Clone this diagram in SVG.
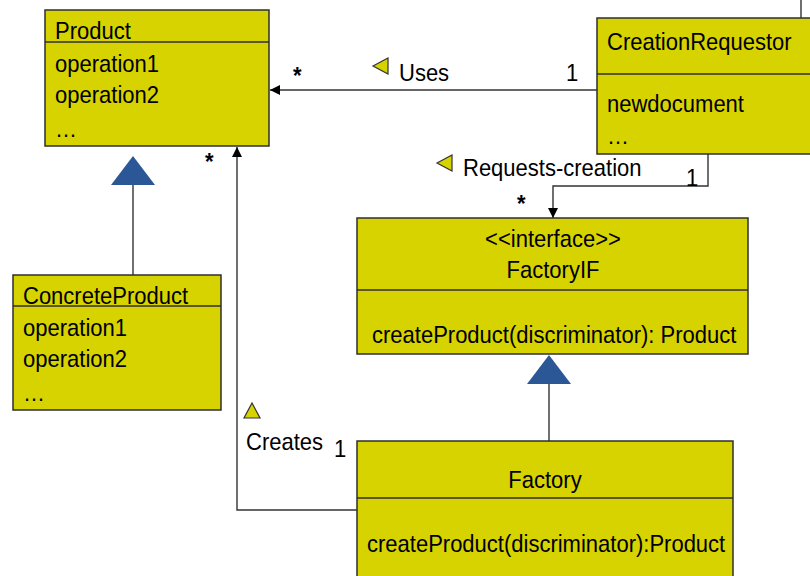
<svg xmlns="http://www.w3.org/2000/svg" width="810" height="576" viewBox="0 0 810 576">
  <defs>
    <style>
      .box { fill: #D6D300; stroke: #2f2f2f; stroke-width: 1.5; }
      .div { stroke: #2f2f2f; stroke-width: 1.5; }
      .t { font-family: "Liberation Sans", Arial, sans-serif; font-size: 24px; fill: #000; }
      .c { text-anchor: middle; }
      .star { font-family: "Liberation Sans", Arial, sans-serif; font-size: 24px; font-weight: bold; fill: #000; }
      .line { fill: none; stroke: #333; stroke-width: 1.4; }
      .gen { fill: #2B5797; }
      .dir { fill: #D6D300; stroke: #333; stroke-width: 1.2; }
    </style>
    <marker id="arrow" viewBox="0 0 10 10" refX="10" refY="5" markerWidth="10" markerHeight="10" markerUnits="userSpaceOnUse" orient="auto">
      <path d="M0,0 L10,5 L0,10 Z" fill="#000"/>
    </marker>
  </defs>

  <!-- connectors -->
  <g id="connectors">
    <!-- off-page link from CreationRequestor -->
    <line class="line" x1="801" y1="0" x2="801" y2="18"/>
    <!-- Uses -->
    <line class="line" x1="597" y1="90" x2="270" y2="90" marker-end="url(#arrow)"/>
    <text class="star" transform="translate(293 84) scale(0.917 1)">*</text>
    <polygon class="dir" points="373,66 388,58 388,74"/>
    <text class="t" transform="translate(399 81) scale(0.917 1)">Uses</text>
    <text class="t" transform="translate(566 81) scale(0.917 1)">1</text>
    <!-- Requests-creation -->
    <polyline class="line" points="708,154 708,186 553,186 553,218" marker-end="url(#arrow)"/>
    <polygon class="dir" points="437,163 452,155 452,171"/>
    <text class="t" transform="translate(463 176) scale(0.917 1)">Requests-creation</text>
    <text class="t" transform="translate(686 186) scale(0.917 1)">1</text>
    <text class="star" transform="translate(517 212) scale(0.917 1)">*</text>
    <!-- Creates -->
    <polyline class="line" points="357,510 237,510 237,147" marker-end="url(#arrow)" stroke="#555" stroke-width="2"/>
    <text class="star" transform="translate(205 170) scale(0.917 1)">*</text>
    <polygon class="dir" points="252,403 260,418 244,418"/>
    <text class="t" transform="translate(246 450) scale(0.917 1)">Creates</text>
    <text class="t" transform="translate(334 457) scale(0.917 1)">1</text>
    <!-- generalizations -->
    <line class="line" x1="133" y1="185" x2="133" y2="275"/>
    <polygon class="gen" points="133,156 155,185 111,185"/>
    <line class="line" x1="549" y1="384" x2="549" y2="441"/>
    <polygon class="gen" points="549,355 571,384 527,384"/>
  </g>

  <!-- Product -->
  <g id="product">
    <rect class="box" x="45" y="10" width="224" height="136"/>
    <line class="div" x1="45" y1="42" x2="269" y2="42"/>
    <text class="t" transform="translate(55 39) scale(0.917 1)">Product</text>
    <text class="t" transform="translate(55 72) scale(0.917 1)">operation1</text>
    <text class="t" transform="translate(55 103) scale(0.917 1)">operation2</text>
    <text class="t" transform="translate(55 137) scale(0.917 1)">…</text>
  </g>

  <!-- CreationRequestor -->
  <g id="creation-requestor">
    <rect class="box" x="597" y="18" width="230" height="136"/>
    <line class="div" x1="597" y1="74" x2="827" y2="74"/>
    <text class="t" transform="translate(607 50) scale(0.917 1)">CreationRequestor</text>
    <text class="t" transform="translate(607 112) scale(0.917 1)">newdocument</text>
    <text class="t" transform="translate(607 144) scale(0.917 1)">…</text>
  </g>

  <!-- ConcreteProduct -->
  <g id="concrete-product">
    <rect class="box" x="13" y="275" width="208" height="135"/>
    <line class="div" x1="13" y1="306" x2="221" y2="306"/>
    <text class="t" transform="translate(23 304) scale(0.917 1)">ConcreteProduct</text>
    <text class="t" transform="translate(23 336) scale(0.917 1)">operation1</text>
    <text class="t" transform="translate(23 367) scale(0.917 1)">operation2</text>
    <text class="t" transform="translate(23 401) scale(0.917 1)">…</text>
  </g>

  <!-- FactoryIF -->
  <g id="factory-if">
    <rect class="box" x="357" y="218" width="391" height="136"/>
    <line class="div" x1="357" y1="290" x2="748" y2="290"/>
    <text class="t c" transform="translate(553 247) scale(0.917 1)">&lt;&lt;interface&gt;&gt;</text>
    <text class="t c" transform="translate(553 278) scale(0.917 1)">FactoryIF</text>
    <text class="t" transform="translate(372 343) scale(0.917 1)">createProduct(discriminator): Product</text>
  </g>

  <!-- Factory -->
  <g id="factory">
    <rect class="box" x="357" y="441" width="376" height="150"/>
    <line class="div" x1="357" y1="498" x2="733" y2="498"/>
    <text class="t c" transform="translate(545 488) scale(0.917 1)">Factory</text>
    <text class="t" transform="translate(367 552) scale(0.917 1)">createProduct(discriminator):Product</text>
  </g>
</svg>
